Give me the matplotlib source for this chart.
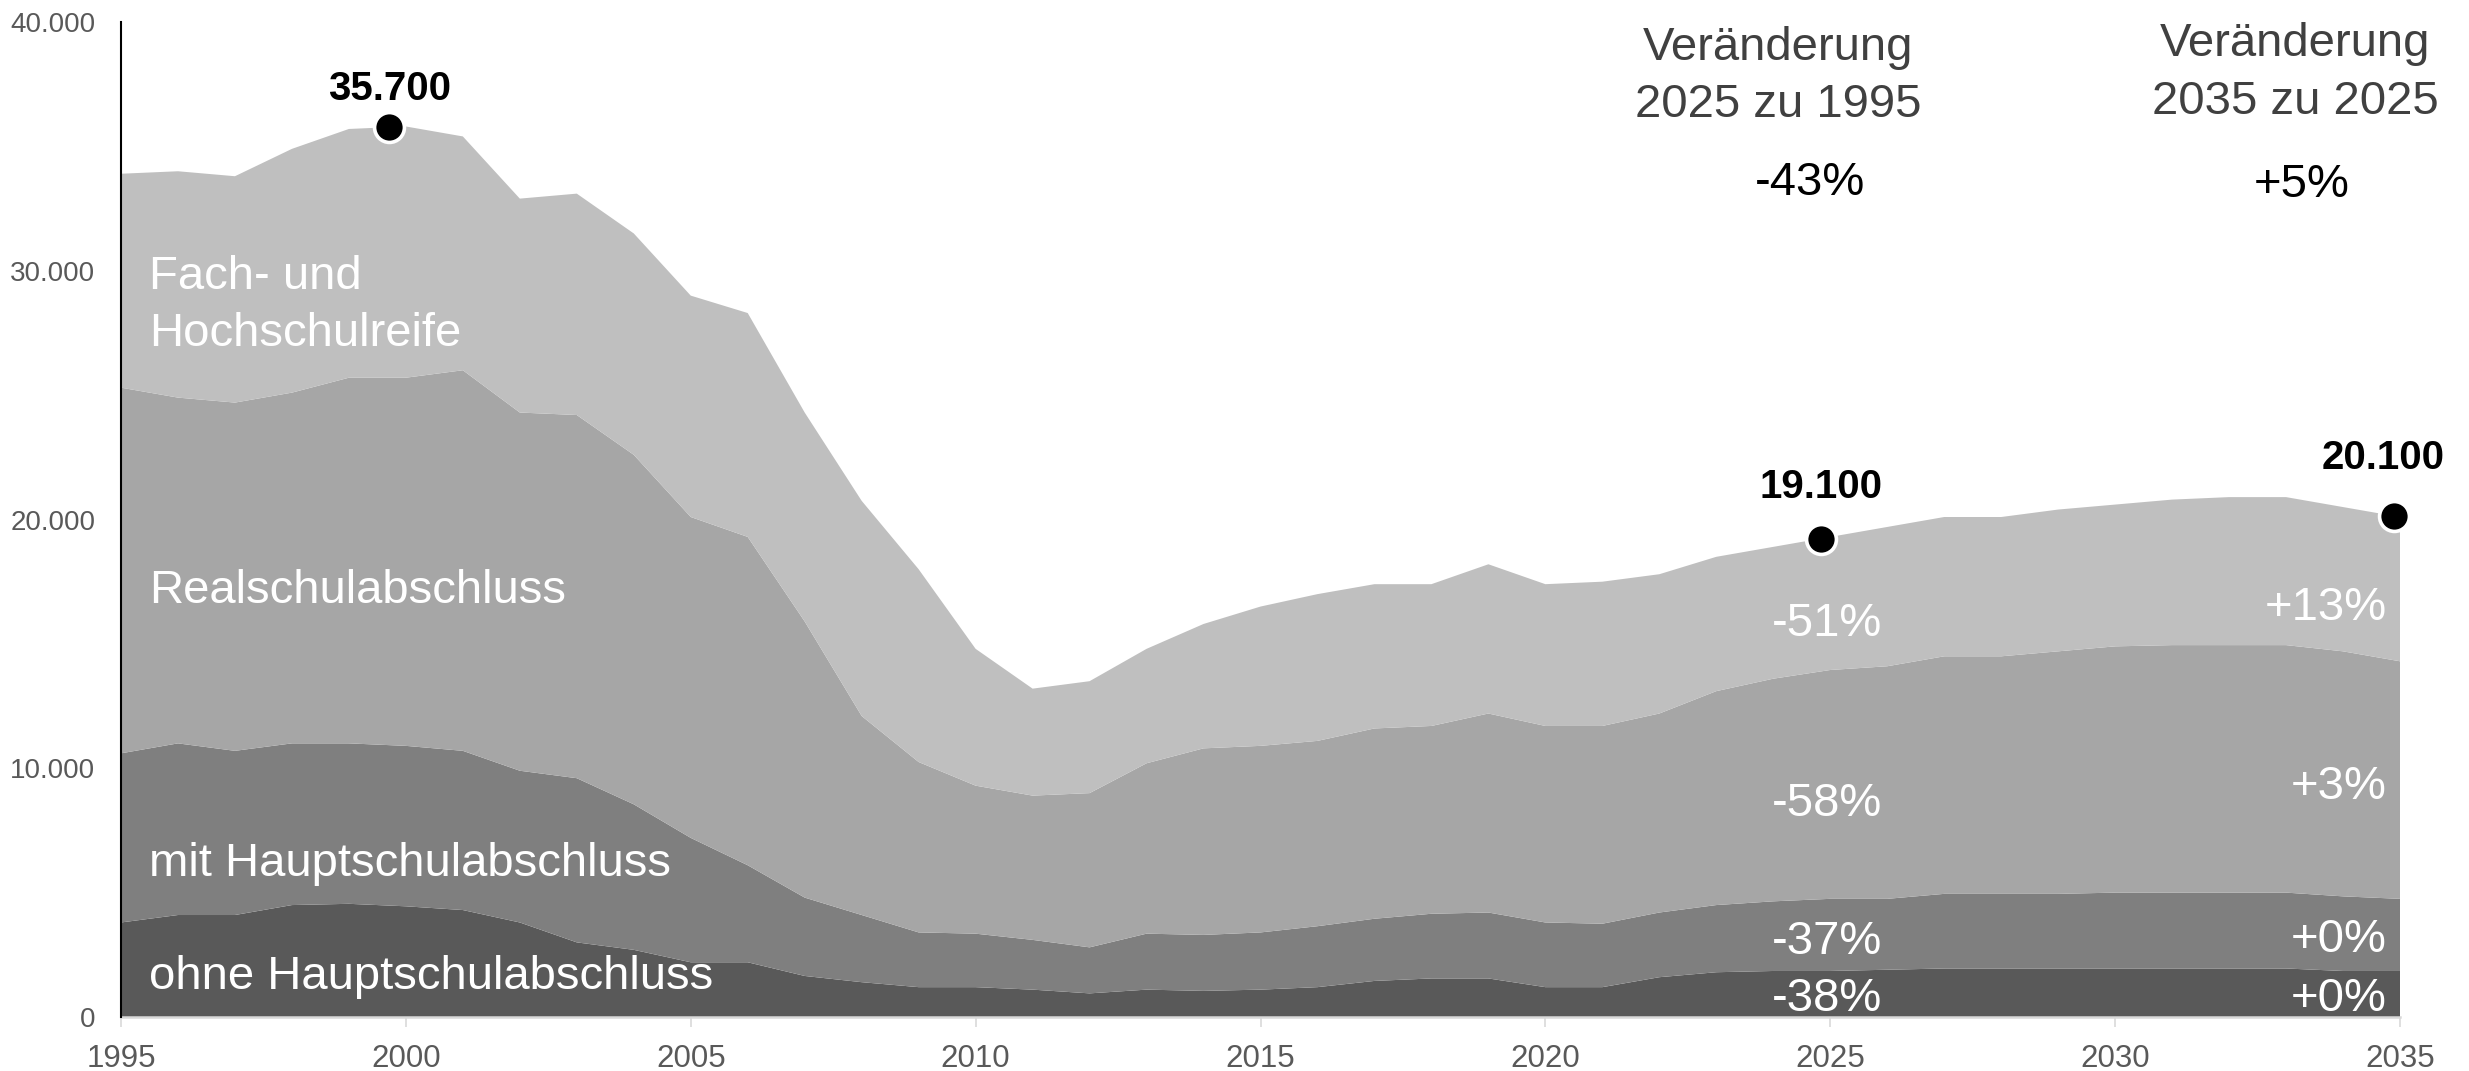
import numpy as np
import matplotlib
matplotlib.use("Agg")
import matplotlib.pyplot as plt
from matplotlib.ticker import FuncFormatter

plt.rcParams['font.family'] = ['Liberation Sans', 'DejaVu Sans']

# ---------------- data ----------------
years = list(range(1995, 2036))

ohne_hauptschulabschluss = [
    3800, 4100, 4100, 4500, 4550, 4450, 4300, 3800, 3000, 2700,
    2200, 2200, 1650, 1400, 1200, 1200, 1100, 950, 1100, 1050,
    1100, 1200, 1450, 1550, 1550, 1200, 1200, 1600, 1800, 1850,
    1850, 1900, 1950, 1950, 1950, 1950, 1950, 1950, 1950, 1850, 1850]

mit_hauptschulabschluss = [
    6800, 6900, 6600, 6500, 6450, 6450, 6400, 6100, 6600, 5850,
    5000, 3900, 3150, 2700, 2200, 2150, 2000, 1850, 2250, 2250,
    2300, 2450, 2500, 2600, 2650, 2600, 2550, 2600, 2700, 2800,
    2900, 2850, 3000, 3000, 3000, 3050, 3050, 3050, 3050, 3000, 2900]

realschulabschluss = [
    14700, 13900, 14000, 14100, 14700, 14800, 15300, 14400, 14600, 14050,
    12900, 13200, 11100, 8000, 6850, 5950, 5800, 6200, 6850, 7500,
    7500, 7450, 7650, 7550, 8000, 7900, 7950, 8000, 8600, 8950,
    9200, 9350, 9550, 9550, 9750, 9900, 9950, 9950, 9950, 9850, 9550]

fach_hochschulreife = [
    8600, 9100, 9100, 9800, 10000, 10100, 9400, 8600, 8900, 8900,
    8900, 9000, 8400, 8650, 7750, 5500, 4300, 4500, 4600, 5000,
    5600, 5900, 5800, 5700, 6000, 5700, 5800, 5600, 5400, 5300,
    5350, 5600, 5600, 5600, 5700, 5700, 5850, 5950, 5950, 5800, 5800]

category_labels = ["ohne Hauptschulabschluss", "mit Hauptschulabschluss",
                   "Realschulabschluss", "Fach- und\nHochschulreife"]

# change labels (order: Fach, Real, mit, ohne)
change_1995_2025 = ["-51%", "-58%", "-37%", "-38%"]
change_2025_2035 = ["+13%", "+3%", "+0%", "+0%"]
total_change_labels = ["-43%", "+5%"]
header_labels = [["Veränderung", "2025 zu 1995"], ["Veränderung", "2035 zu 2025"]]

highlight_years = [1999.7, 2024.84, 2034.9]
highlight_labels = ["35.700", "19.100", "20.100"]

ytick_values = [0, 10000, 20000, 30000, 40000]
xtick_values = [1995, 2000, 2005, 2010, 2015, 2020, 2025, 2030, 2035]

# ---------------- figure ----------------
W, H = 2469, 1071
fig = plt.figure(figsize=(W / 100, H / 100), dpi=100)
ax = fig.add_axes([121 / W, 1 - 1017 / H, (2400 - 121) / W, (1017 - 22) / H])

colors = ["#595959", "#7f7f7f", "#a6a6a6", "#bfbfbf"]
x = np.array(years)
layers = [np.array(ohne_hauptschulabschluss), np.array(mit_hauptschulabschluss),
          np.array(realschulabschluss), np.array(fach_hochschulreife)]
ax.stackplot(x, *layers, colors=colors, linewidth=0, zorder=1)
total = np.sum(layers, axis=0)

ax.set_xlim(1995, 2035)
ax.set_ylim(0, 40000)

# spines
for s in ["top", "right"]:
    ax.spines[s].set_visible(False)
ax.spines["left"].set_color("black")
ax.spines["left"].set_linewidth(1.5)
ax.spines["bottom"].set_color("#d9d9d9")
ax.spines["bottom"].set_linewidth(1.8)
ax.spines["left"].set_zorder(5)

ax.set_yticks(ytick_values)
ax.yaxis.set_major_formatter(FuncFormatter(lambda v, p: f"{int(v):,}".replace(",", ".")))
ax.tick_params(axis="y", length=0, pad=18.5, labelsize=20, labelcolor="#595959")
ax.set_xticks(xtick_values)
ax.tick_params(axis="x", length=7.5, width=1.2, color="#d9d9d9", pad=12,
               labelsize=22.5, labelcolor="#595959")

# category labels
lab_x = 1995.49
ax.text(lab_x, 1140, category_labels[0], color="white", fontsize=34, va="baseline", ha="left", zorder=4)
ax.text(lab_x, 5650, category_labels[1], color="white", fontsize=34, va="baseline", ha="left", zorder=4)
ax.text(lab_x, 16650, category_labels[2], color="white", fontsize=34, va="baseline", ha="left", zorder=4)
fach_lines = category_labels[3].split("\n")
ax.text(lab_x, 29285, fach_lines[0], color="white", fontsize=34, va="baseline", ha="left", zorder=4)
ax.text(lab_x, 26970, fach_lines[1], color="white", fontsize=34, va="baseline", ha="left", zorder=4)

# change labels inside areas
left_y = [15330, 8085, 2534, 241]
right_y = [15970, 8770, 2615, 241]
for lab, yy in zip(change_1995_2025, left_y):
    ax.text(2024.94, yy, lab, color="white", fontsize=34, ha="center", va="baseline", zorder=4)
for lab, yy in zip(change_2025_2035, right_y):
    ax.text(2034.77, yy, lab, color="white", fontsize=34, ha="right", va="baseline", zorder=4)

# headers
ax.text(2024.08, 38475, header_labels[0][0], color="#404040", fontsize=34, ha="center", va="baseline", clip_on=False)
ax.text(2024.08, 36180, header_labels[0][1], color="#404040", fontsize=34, ha="center", va="baseline", clip_on=False)
ax.text(2024.64, 33065, total_change_labels[0], color="black", fontsize=34, ha="center", va="baseline")
ax.text(2033.16, 38650, header_labels[1][0], color="#404040", fontsize=34, ha="center", va="baseline", clip_on=False)
ax.text(2033.16, 36320, header_labels[1][1], color="#404040", fontsize=34, ha="center", va="baseline", clip_on=False)
ax.text(2033.28, 32945, total_change_labels[1], color="black", fontsize=34, ha="center", va="baseline")

# highlight dots
offsets = [(0.7, 19.5), (0.0, 29.0), (-8.0, 34.0)]
for hx, hl, off in zip(highlight_years, highlight_labels, offsets):
    hy = np.interp(hx, x, total)
    ax.plot([hx], [hy], marker="o", markersize=21.5, markerfacecolor="black",
            markeredgecolor="white", markeredgewidth=2.6, clip_on=False, zorder=6)
    ax.annotate(hl, (hx, hy), xytext=off, textcoords="offset points",
                ha="center", va="baseline", fontsize=29, fontweight="bold",
                color="black", zorder=7, annotation_clip=False)

fig.savefig("out.png", dpi=100)
